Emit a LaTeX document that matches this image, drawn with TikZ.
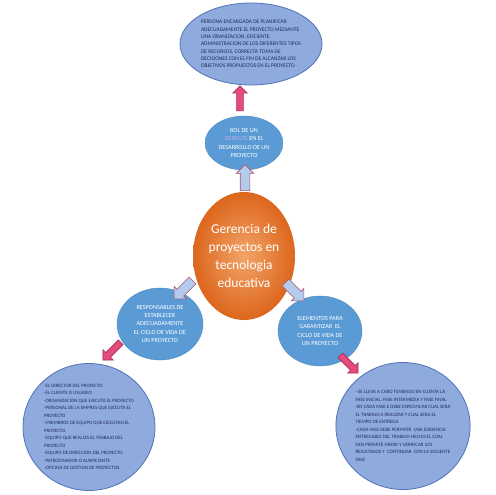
\documentclass[tikz,border=0pt]{standalone}
\usepackage{fontspec}
\setmainfont{Carlito}
\usetikzlibrary{shapes.geometric,shapes.arrows}
\definecolor{bigfill}{HTML}{8FAADC}
\definecolor{bigline}{HTML}{4F72B8}
\definecolor{smallfill}{HTML}{5B9BD5}
\definecolor{orangeout}{HTML}{DC661C}
\definecolor{orangein}{HTML}{F3A468}
\definecolor{pinkfill}{HTML}{E64B7C}
\definecolor{pinkline}{HTML}{A83058}
\definecolor{lightfill}{HTML}{B3CBEC}
\definecolor{lightline}{HTML}{B4506E}
\definecolor{navytext}{HTML}{1F2D5C}
\definecolor{lavender}{HTML}{B9AEEA}
\tikzset{
  bigell/.style={ellipse, fill=bigfill, draw=bigline, line width=0.8pt, inner sep=0pt,
    text=navytext, align=left, font=\fontsize{4.95}{7.5}\selectfont},
  smallell/.style={ellipse, fill=smallfill, draw=smallfill!90!black, line width=0.4pt, inner sep=0pt,
    text=white, align=center, font=\fontsize{6.2}{8.3}\selectfont},
  pinkarrow/.style={single arrow, fill=pinkfill, draw=pinkline, line width=0.6pt,
    inner sep=3pt, single arrow head extend=4pt, minimum height=25pt},
  lightarrow/.style={single arrow, fill=lightfill, draw=lightline, line width=0.6pt,
    inner sep=4.5pt, single arrow head extend=4pt, minimum height=26pt},
}
\begin{document}
\begin{tikzpicture}[x=1pt,y=-1pt]
\useasboundingbox (0,0) rectangle (495,495);
\fill[white] (0,0) rectangle (495,495);

\node[bigell, minimum width=142pt, minimum height=82pt, font=\fontsize{5.5}{7.3}\selectfont] (top) at (251,44) {PERSONA ENCARGADA DE PLANIFICAR\\ADECUADAMENTE EL PROYECTO MEDIANTE\\UNA ORANIZACION, EFICIENTE\\ADMINISTRACION DE LOS DIFERENTES TIPOS\\DE RECURSOS, CORRECTA TOMA DE\\DECISIONES CON EL FIN DE ALCANZAR LOS\\OBJETIVOS PROPUESTOS EN EL PROYECTO};

\node[smallell, minimum width=78pt, minimum height=54pt] (rol) at (244,143) {ROL DE UN\\{\color{lavender}GERENTE} EN EL\\DESARROLLO DE UN\\PROYECTO};

\node[ellipse, minimum width=102pt, minimum height=128pt, inner sep=0pt,
  inner color=orangein, outer color=orangeout, text=white, align=center,
  font=\fontsize{13.5}{18}\selectfont] (center) at (244,256) {Gerencia de\\proyectos en\\tecnologia\\educativa};

\node[smallell, minimum width=86pt, minimum height=72pt] (resp) at (160,324) {RESPONSABLES DE\\ESTABLECER\\ADECUADAMENTE\\EL CICLO DE VIDA DE\\UN PROYECTO};

\node[smallell, minimum width=84pt, minimum height=70pt] (elem) at (320,331) {ELEMENTOS PARA\\GARANTIZAR\ \ EL\\CICLO DE VIDA DE\\UN PROYECTO};

\node[bigell, minimum width=132pt, minimum height=127pt] (lista) at (89,427) {-EL DIRECTOR DEL PROYECTO\\-EL CLIENTE O USUARIO\\-ORGANIZACION QUE EJECUTA EL PROYECTO\\-PERSONAL DE LA EMPRES QUE EJECUTA EL\\PROYECTO\\-MIEMBROS DE EQUIPO QUE EJECUTAN EL\\PROYECTO\\-EQUIPO QUE REALIZA EL TRABAJO DEL\\PROYECTO\\-EQUIPO DE DIRECCION DEL PROYECTO\\-PATROCINADOR O AUSPICIANTE\\-OFICINA DE GESTION DE PROYECTOS.};

\node[bigell, minimum width=134pt, minimum height=127pt] (fases) at (403,426) {- SE LLEVA A CABO TENIENDO EN CUENTA LA\\FASE INICIAL, FASE INTERMEDIA Y FASE FINAL\\-EN CADA FASE E DEBE ESPECIFICAR CUAL SERA\\EL TRABAJO A REALIZAR Y CUAL SERA EL\\TIEMPO DE ENTREGA\\-CADA FASE DEBE PERMITIR\ \ UNA EVIDENCIA\\ENTREGABLE DEL TRABAJO HECHO EL CUAL\\NOS PERMITE MEDIR Y VERIFICAR LOS\\RESULTADOS Y\ \ CONTINUAR\ \ CON LA SIGUENTE\\FASE};

% block arrows between nodes
\node[pinkarrow, rotate=90] (a1) at (240,100) {};
\node[lightarrow, rotate=90] (a2) at (245,180) {};
\node[lightarrow, rotate=225] (a3) at (185,288) {};
\node[lightarrow, rotate=-45] (a4) at (293,290) {};
\node[pinkarrow, rotate=225] (a5) at (113,350) {};
\node[pinkarrow, rotate=-45] (a6) at (348,363) {};
\end{tikzpicture}
\end{document}
